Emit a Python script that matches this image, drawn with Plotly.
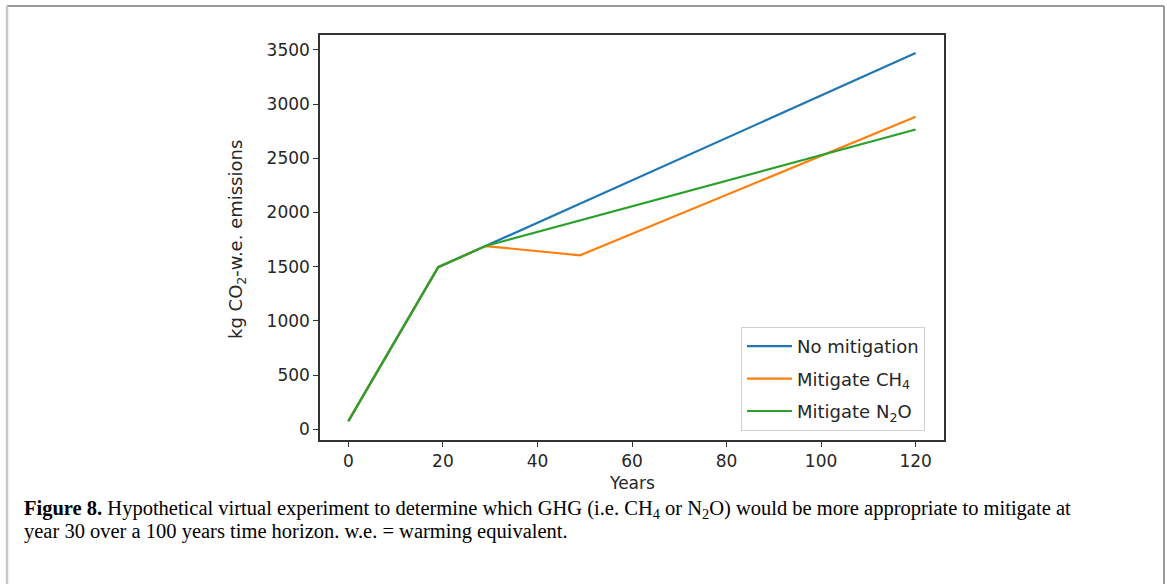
import plotly.graph_objects as go

W, H = 1167, 584

# ---- data ----
years_no = [0, 19, 29, 120]
no_mitigation = [75, 1495, 1690, 3470]

years_ch4 = [0, 19, 29, 49, 120]
mitigate_ch4 = [75, 1495, 1690, 1605, 2882]

years_n2o = [0, 19, 29, 120]
mitigate_n2o = [75, 1495, 1690, 2765]

series_names = ["No mitigation", "Mitigate CH<sub>4</sub>", "Mitigate N<sub>2</sub>O"]
colors = ["#1f77b4", "#ff7f0e", "#2ca02c"]

x_ticks = [0, 20, 40, 60, 80, 100, 120]
y_ticks = [0, 500, 1000, 1500, 2000, 2500, 3000, 3500]

caption_line1 = ("<b>Figure 8.</b> Hypothetical virtual experiment to determine which GHG (i.e. CH<sub>4</sub> or "
                 "N<sub>2</sub>O) would be more appropriate to mitigate at")
caption_line2 = "year 30 over a 100 years time horizon. w.e. = warming equivalent."

# ---- geometry (pixels) ----
ax_l, ax_r, ax_t, ax_b = 320, 944, 35, 440

fig = go.Figure()
for xs, ys, name, c, g in [
    (years_no, no_mitigation, series_names[0], colors[0], "a"),
    (years_ch4, mitigate_ch4, series_names[1], colors[1], "b"),
    (years_n2o, mitigate_n2o, series_names[2], colors[2], "c"),
]:
    fig.add_trace(go.Scatter(x=xs, y=ys, mode="lines", name=name,
                             line=dict(color=c, width=2.2), legendgroup=g))

font_sans = "DejaVu Sans"
txt_col = "#262626"
axis_common = dict(showgrid=False, zeroline=False, showline=True, linecolor="#333",
                   linewidth=1.5, mirror=True, ticks="outside", ticklen=5, tickwidth=1.3,
                   tickcolor="#333", tickfont=dict(family=font_sans, size=17, color=txt_col))

fig.update_layout(
    width=W, height=H,
    margin=dict(l=0, r=0, t=0, b=0),
    paper_bgcolor="white", plot_bgcolor="white",
    xaxis=dict(domain=[ax_l / W, ax_r / W], range=[-6, 126], tickvals=x_ticks, **axis_common),
    yaxis=dict(domain=[1 - ax_b / H, 1 - ax_t / H], range=[-99, 3637], tickvals=y_ticks, **axis_common),
    showlegend=True,
    legend=dict(x=741 / W, y=1 - 327 / H, xanchor="left", yanchor="top",
                bgcolor="white", bordercolor="#d0d0d0", borderwidth=1,
                font=dict(family=font_sans, size=18, color=txt_col),
                itemwidth=45, tracegroupgap=6),
)

# axis titles
fig.add_annotation(text="Years", xref="paper", yref="paper", x=632 / W, y=1 - 483 / H,
                   showarrow=False, font=dict(family=font_sans, size=17, color=txt_col),
                   xanchor="center", yanchor="middle")
fig.add_annotation(text="kg CO<sub>2</sub>-w.e. emissions", xref="paper", yref="paper",
                   x=237 / W, y=1 - 240 / H, textangle=-90, showarrow=False,
                   font=dict(family=font_sans, size=18, color=txt_col),
                   xanchor="center", yanchor="middle")

# caption
fig.add_annotation(text=caption_line1, xref="paper", yref="paper", x=22 / W, y=1 - 509 / H,
                   showarrow=False, align="left", xanchor="left", yanchor="middle",
                   font=dict(family="Liberation Serif", size=20.5, color="black"))
fig.add_annotation(text=caption_line2, xref="paper", yref="paper", x=22 / W, y=1 - 531 / H,
                   showarrow=False, align="left", xanchor="left", yanchor="middle",
                   font=dict(family="Liberation Serif", size=20.5, color="black"))

# outer frame
fig.add_shape(type="line", xref="paper", yref="paper", x0=7 / W, x1=1164 / W,
              y0=1 - 6 / H, y1=1 - 6 / H, line=dict(color="#999999", width=2))
fig.add_shape(type="line", xref="paper", yref="paper", x0=7 / W, x1=7 / W,
              y0=1 - 6 / H, y1=0, line=dict(color="#c8c8c8", width=2.5))
fig.add_shape(type="line", xref="paper", yref="paper", x0=1164 / W, x1=1164 / W,
              y0=1 - 6 / H, y1=0, line=dict(color="#999999", width=2))

fig.write_html("out.html")
